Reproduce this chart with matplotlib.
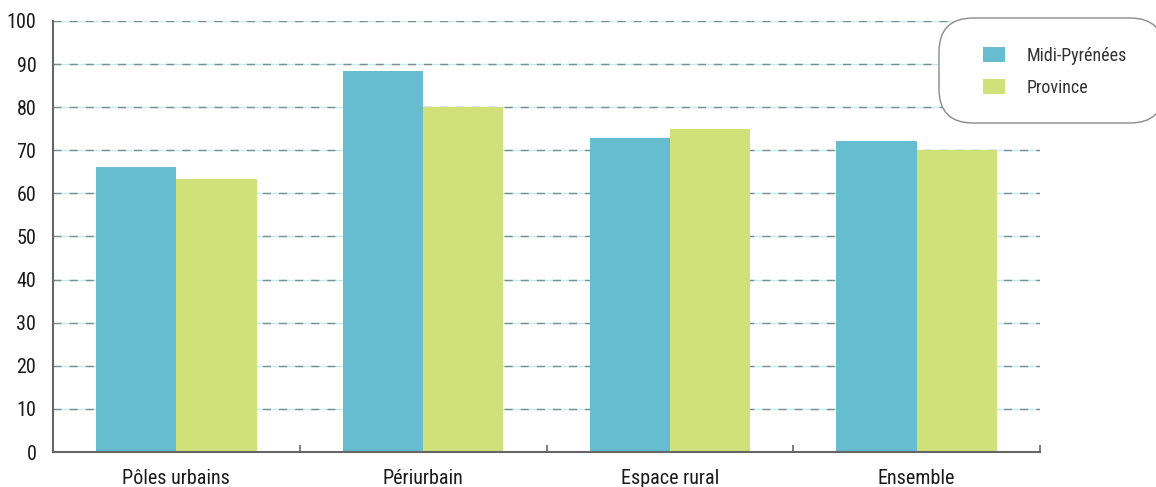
import matplotlib
matplotlib.use("Agg")
import matplotlib.pyplot as plt
import numpy as np
from matplotlib.patches import FancyBboxPatch, Patch

plt.rcParams['font.family'] = ['Roboto Condensed', 'Archivo Narrow', 'DejaVu Sans']

categories = ["Pôles urbains", "Périurbain", "Espace rural", "Ensemble"]
midi_pyrenees = [66.1, 88.4, 72.9, 72.2]
province = [63.4, 80.0, 74.9, 70.0]
series_names = ["Midi-Pyrénées", "Province"]
yticks = [0, 10, 20, 30, 40, 50, 60, 70, 80, 90, 100]

c_mp = "#67BDD0"
c_pr = "#D1E17A"

W, H = 1156, 487
fig = plt.figure(figsize=(W/100, H/100), dpi=100)
ax = fig.add_axes([53/W, (H-452)/H, (1040-53)/W, (452-21)/H])

x = np.arange(len(categories))
w = 0.325
# gridlines: light cyan line with gray dashes
for v in yticks[1:]:
    ax.axhline(v, color="#C5EBF0", lw=1.0, zorder=1)
    ax.axhline(v, color="#7F8C8E", lw=1.0, ls=(0, (5.8, 5.8)), zorder=1.1)

ax.bar(x - w/2, midi_pyrenees, w, color=c_mp, zorder=2)
ax.bar(x + w/2, province, w, color=c_pr, zorder=2)

ax.set_xlim(-0.5, 3.5)
ax.set_ylim(0, 100)
ax.set_yticks(yticks)
ax.set_yticklabels([str(v) for v in yticks], fontsize=14.5, color="#1a1a1a")
ax.tick_params(axis='y', length=0, pad=12)
ax.set_xticks(x)
ax.set_xticklabels(categories, fontsize=14.5, color="#1a1a1a")
ax.tick_params(axis='x', which='major', length=0, pad=12)
ax.set_xticks([0.5, 1.5, 2.5, 3.5], minor=True)
ax.tick_params(axis='x', which='minor', length=5, width=1.2, color="#666666", direction='in')

for s in ['top', 'right']:
    ax.spines[s].set_visible(False)
for s in ['left', 'bottom']:
    ax.spines[s].set_color("#666666")
    ax.spines[s].set_linewidth(1.5)

# legend box (rounded, running off the right edge)
box = FancyBboxPatch((939/100, (H-123)/100), 225/100, 105/100,
                     boxstyle="round,pad=0,rounding_size=0.34",
                     transform=fig.dpi_scale_trans, facecolor="white",
                     edgecolor="#8a8a8a", lw=1.0, zorder=5)
fig.patches.append(box)
handles = [Patch(facecolor=c_mp), Patch(facecolor=c_pr)]
leg = fig.legend(handles, series_names, loc='upper left',
                 bbox_to_anchor=(983/W, (H-47)/H), frameon=False,
                 fontsize=13, handlelength=1.2, handleheight=0.9,
                 labelspacing=0.75, handletextpad=1.2, borderpad=0,
                 borderaxespad=0, labelcolor="#333333")
leg.set_zorder(6)

fig.savefig("out.png", dpi=100)
